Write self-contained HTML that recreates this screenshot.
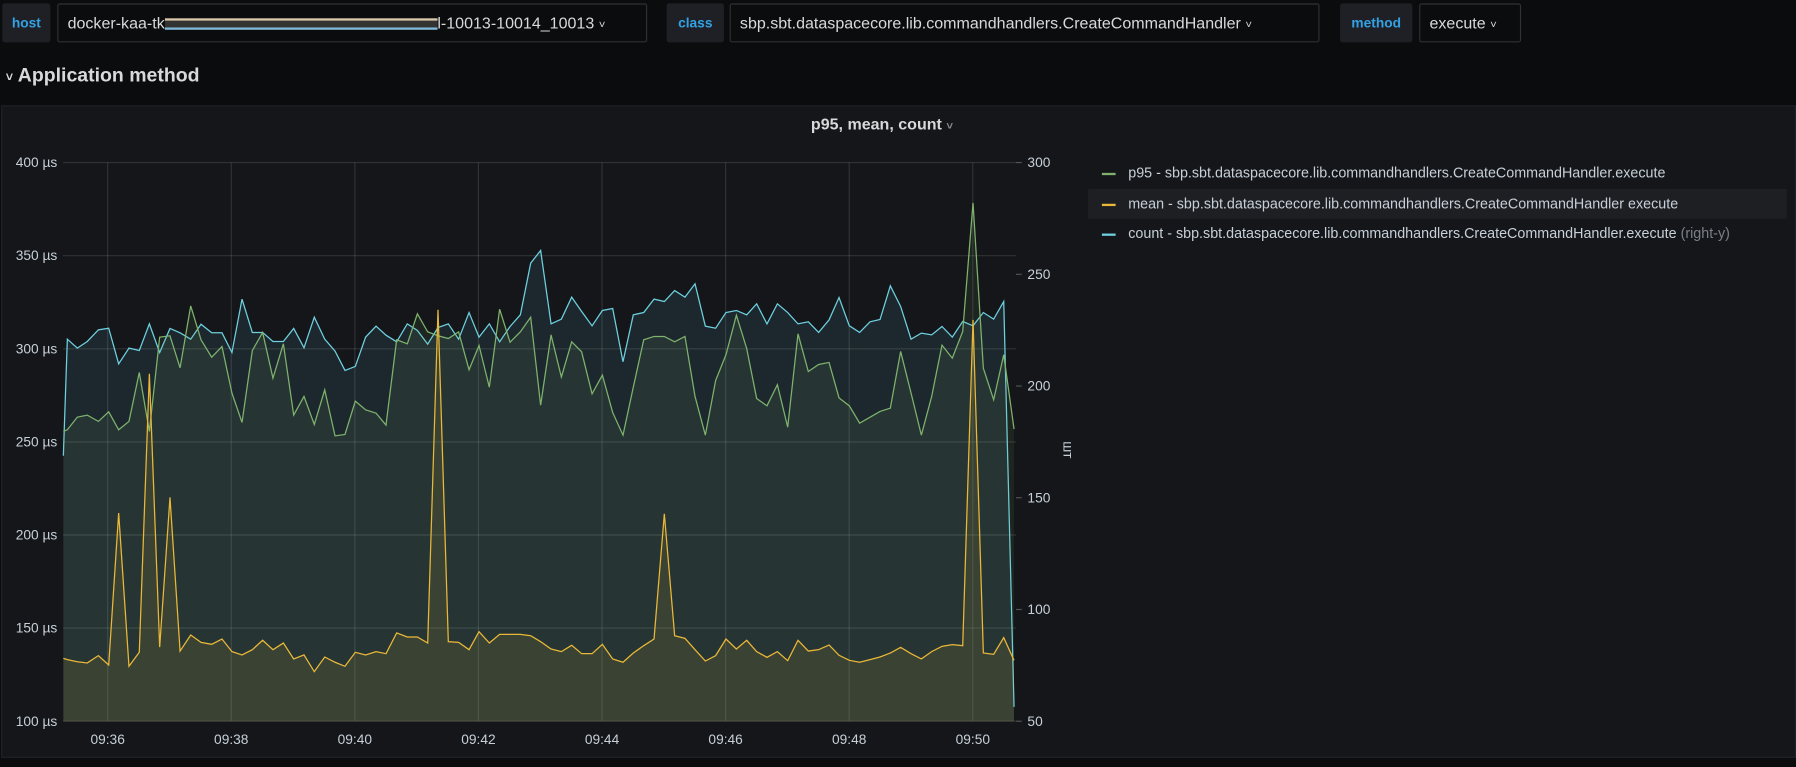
<!DOCTYPE html>
<html><head><meta charset="utf-8"><style>
html,body{margin:0;padding:0;background:#0b0c0e;width:1796px;height:767px;overflow:hidden;font-family:"Liberation Sans",sans-serif;}
#w{position:absolute;left:0;top:0;width:1568px;height:670px;transform:scale(1.14541,1.1448);transform-origin:0 0;}
.b{position:absolute;box-sizing:border-box;height:34px;top:3px;border-radius:2px;font-size:14px;line-height:32px;}
.lab{background:#1e2025;border:1px solid #1e2025;color:#33a2e5;font-weight:bold;font-size:12px;text-align:center;}
.dd{background:#0b0c0e;border:1px solid #2c3235;color:#d8d9da;padding-left:8px;}
.t{position:absolute;color:#c7d0d9;font-size:12px;}
</style></head><body><div id="w">
<div class="b lab" style="left:2px;width:42px">host</div>
<div class="b dd" style="left:50px;width:515px">docker-kaa-tk<span style="display:inline-block;width:238px;height:6px;vertical-align:middle;border-top:2px solid #d9c9a9;border-bottom:2px solid #7fb8d8;background:#333"></span>l-10013-10014_10013 <span style="font-size:10px">&#x2c5;</span></div>
<div class="b lab" style="left:582px;width:50px">class</div>
<div class="b dd" style="left:637px;width:515px">sbp.sbt.dataspacecore.lib.commandhandlers.CreateCommandHandler <span style="font-size:10px">&#x2c5;</span></div>
<div class="b lab" style="left:1170px;width:63px">method</div>
<div class="b dd" style="left:1239px;width:89px">execute <span style="font-size:10px">&#x2c5;</span></div>
<div style="position:absolute;left:5px;top:56px;color:#d8d9da;font-size:17px;font-weight:bold"><span style="font-size:11px">&#x2c5;</span> Application method</div>
<div style="position:absolute;left:1px;top:92px;width:1567px;height:570px;background:#141619;border:1px solid #202226;box-sizing:border-box"></div>
<div style="position:absolute;left:0;width:1540px;top:100px;text-align:center;color:#d8d9da;font-size:14px;font-weight:bold">p95, mean, count <span style="font-size:10px;color:#8e8e8e">&#x2c5;</span></div>
<svg style="position:absolute;left:0;top:0" width="1568" height="670" id="s"></svg>
<div class="t" style="left:962px;top:144px;font-size:12.5px"><span style="display:inline-block;width:12px;height:2px;background:#7eb26d;vertical-align:middle;margin-right:11px"></span>p95 - sbp.sbt.dataspacecore.lib.commandhandlers.CreateCommandHandler.execute</div>
<div style="position:absolute;left:950px;top:165px;width:610px;height:26px;background:#1d1f23"></div>
<div class="t" style="left:962px;top:171px;font-size:12.5px"><span style="display:inline-block;width:12px;height:2px;background:#eab839;vertical-align:middle;margin-right:11px"></span>mean - sbp.sbt.dataspacecore.lib.commandhandlers.CreateCommandHandler execute</div>
<div class="t" style="left:962px;top:197px;font-size:12.5px"><span style="display:inline-block;width:12px;height:2px;background:#6ed0e0;vertical-align:middle;margin-right:11px"></span>count - sbp.sbt.dataspacecore.lib.commandhandlers.CreateCommandHandler.execute <span style="color:#7b8087">(right-y)</span></div>
<div class="t" style="left:925px;top:386px;transform:rotate(90deg);font-size:12px">шт</div>
</div>
<script>
const S=1.1454,ns="http://www.w3.org/2000/svg",svg=document.getElementById('s');
function el(t,a){const e=document.createElementNS(ns,t);for(const k in a)e.setAttribute(k,a[k]);svg.appendChild(e);return e;}
function tx(x,y,s,anc){const e=el('text',{x:x,y:y,fill:'#c7d0d9','font-size':12,'text-anchor':anc||'start','font-family':'Liberation Sans, sans-serif'});e.textContent=s;}
const L=55,R=887,T=142,B=630;
// grid
[400,350,300,250,200,150,100].forEach((v,i)=>{const y=T+(400-v)/300*(B-T);el('line',{x1:L,x2:R,y1:y,y2:y,stroke:'rgba(255,255,255,0.12)'});tx(50,y+4,v+' µs','end');});
['09:36','09:38','09:40','09:42','09:44','09:46','09:48','09:50'].forEach((s,i)=>{const x=94+i*107.9;el('line',{x1:x,x2:x,y1:T,y2:B,stroke:'rgba(255,255,255,0.12)'});tx(x,650,s,'middle');});
[300,250,200,150,100,50].forEach(v=>{const y=T+(300-v)/250*(B-T);el('line',{x1:R,x2:R+5,y1:y,y2:y,stroke:'#555'});tx(897,y+4,v);});
el('line',{x1:L,x2:R,y1:B,y2:B,stroke:'#333'});
const a4=(a)=>{const r=[];for(let i=0;i<a.length;i+=2)r.push([(60+a[i]/3)/S,(230+a[i+1]/3)/S]);return r;};
const a5=(a)=>{const r=[];for(let i=0;i<a.length;i+=2)r.push([(540+a[i]/3)/S,(230+a[i+1]/3)/S]);return r;};
const cy=a4([10,678,22,328,52,355,82,335,115,300,146,295,176,402,207,355,238,362,268,282,299,368,330,296,360,309,392,328,423,283,455,309,486,309,516,368,546,208,577,308,608,308,639,335,670,335,701,296,732,354,763,262,794,328,825,364,855,422,886,410,917,322,948,289,978,316,1010,336,1042,282,1072,302,1103,343,1134,293,1165,282,1196,328,1227,248,1257,322,1288,282,1319,336,1350,290,1381,255,1412,100,1442,62]).concat(a5([33,282,64,268,95,202,125,245,156,288,187,242,218,236,249,396,280,255,311,248,342,208,373,215,404,182,435,202,465,162,496,289,527,295,558,248,589,242,620,255,650,222,681,282,712,222,743,248,774,282,805,276,836,308,867,270,897,203,928,288,959,308,990,276,1020,269,1051,168,1082,230,1113,328,1144,310,1175,315,1206,290,1237,322,1268,275,1299,288,1330,248,1361,268,1391,215,1422,1432]));
const gr=a4([10,605,22,600,52,562,82,556,115,575,146,546,176,600,207,575,238,428,268,605,299,322,330,318,360,414,392,228,423,330,455,382,486,350,516,490,546,578,577,362,608,308,639,445,670,342,701,556,732,500,763,584,794,480,825,618,855,614,886,514,917,540,948,550,978,586,1010,330,1042,342,1072,252,1103,306,1134,318,1165,326,1196,306,1227,420,1257,347,1288,472,1319,238,1350,337,1381,306,1412,262,1442,526]).concat(a5([33,315,64,442,95,336,125,366,156,492,187,436,218,548,249,616,280,472,311,330,342,320,373,320,404,336,435,320,465,500,496,616,527,452,558,375,589,256,620,356,650,506,681,528,712,465,743,592,774,312,805,425,836,404,867,398,897,504,928,528,959,580,990,562,1020,545,1051,535,1082,365,1113,490,1144,616,1175,500,1206,346,1237,385,1268,305,1299,-81,1330,415,1361,510,1391,375,1422,598]));
const ye=a4([10,1286,22,1290,52,1296,82,1300,115,1278,146,1306,176,850,207,1310,238,1268,268,432,299,1252,330,803,360,1264,392,1216,423,1238,455,1244,486,1228,516,1266,546,1276,577,1260,608,1232,639,1260,670,1240,701,1288,732,1276,763,1326,794,1282,825,1298,855,1310,886,1268,917,1276,948,1266,978,1272,1010,1210,1042,1222,1072,1222,1103,1240,1134,240,1165,1236,1196,1238,1227,1260,1257,1206,1288,1240,1319,1214,1350,1214,1381,1214,1412,1218,1442,1236]).concat(a5([33,1258,64,1266,95,1247,125,1272,156,1272,187,1244,218,1288,249,1298,280,1270,311,1248,342,1228,373,852,404,1218,435,1226,465,1260,496,1294,527,1278,558,1228,589,1258,620,1232,650,1266,681,1283,712,1266,743,1293,774,1232,805,1264,836,1260,867,1246,897,1277,928,1292,959,1298,990,1290,1020,1282,1051,1270,1082,1253,1113,1272,1144,1288,1175,1266,1206,1250,1237,1245,1268,1248,1299,270,1330,1270,1361,1274,1391,1224,1422,1292]));
function draw(p,c){const pts=p.map(q=>q[0].toFixed(1)+','+q[1].toFixed(1)).join(' ');
el('polygon',{points:p[0][0].toFixed(1)+','+B+' '+pts+' '+p[p.length-1][0].toFixed(1)+','+B,fill:c,'fill-opacity':0.1});
el('polyline',{points:pts,fill:'none',stroke:c,'stroke-width':1.1});}
draw(cy,'#6ed0e0');draw(gr,'#7eb26d');draw(ye,'#eab839');
</script>
</body></html>
